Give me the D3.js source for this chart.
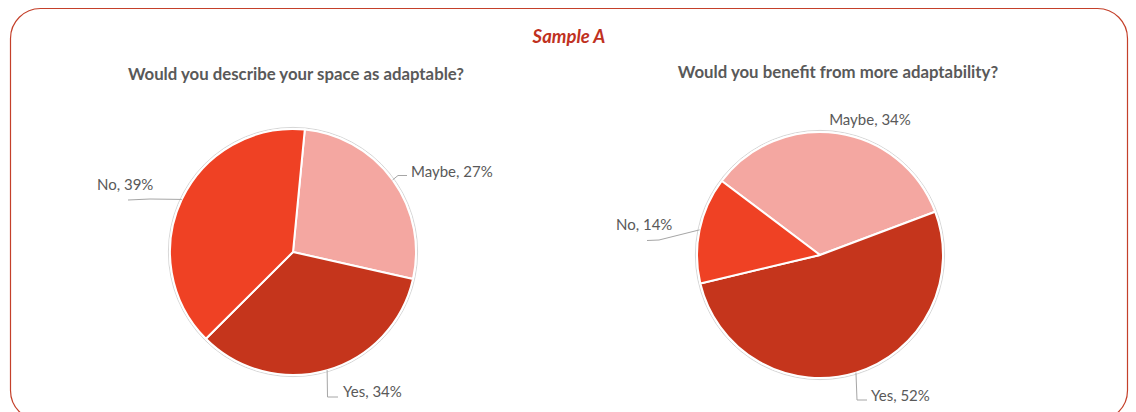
<!DOCTYPE html>
<html>
<head>
<meta charset="utf-8">
<script src="https://cdn.jsdelivr.net/npm/d3@7"></script>
<style>
  html, body { margin: 0; padding: 0; background: #ffffff; }
  svg { display: block; }
</style>
</head>
<body>
<svg id="chart" width="1136" height="412"></svg>
<script>
// Survey answers, Sample A
const panelTitle = "Sample A";

const leftQuestion = "Would you describe your space as adaptable?";
const leftCategories = ["Maybe", "Yes", "No"];
const leftValues = [27, 34, 39];

const rightQuestion = "Would you benefit from more adaptability?";
const rightCategories = ["Maybe", "Yes", "No"];
const rightValues = [34, 52, 14];

const colorByAnswer = { "No": "#ef4124", "Maybe": "#f4a7a1", "Yes": "#c5351c" };

const svg = d3.select("#chart");

// rounded frame around both charts
svg.append("rect")
  .attr("x", 10.5).attr("y", 8.5)
  .attr("width", 1117).attr("height", 412)
  .attr("rx", 30).attr("ry", 30)
  .attr("fill", "none")
  .attr("stroke", "#c4402a")
  .attr("stroke-width", 1.2);

svg.append("text")
  .attr("x", 569).attr("y", 43)
  .attr("text-anchor", "middle")
  .attr("font-family", "Lato, 'Open Sans', sans-serif")
  .attr("font-weight", "bold")
  .attr("font-style", "italic")
  .attr("font-size", 18.5)
  .attr("fill", "#c0311f")
  .text(panelTitle);

const deg = Math.PI / 180;

function drawPie(cfg) {
  const g = svg.append("g");
  const data = cfg.categories.map((c, i) => ({ cat: c, value: cfg.values[i] }));

  g.append("text")
    .attr("x", cfg.titleX).attr("y", cfg.titleY)
    .attr("text-anchor", "middle")
    .attr("font-family", "Lato, 'Open Sans', sans-serif")
    .attr("font-weight", "bold")
    .attr("font-size", 16.8)
    .attr("fill", "#595959")
    .text(cfg.question);

  const pie = d3.pie()
    .sort(null)
    .value(d => d.value)
    .startAngle(cfg.start * deg)
    .endAngle(cfg.start * deg + 2 * Math.PI);

  const arcs = pie(data);
  const arc = d3.arc().innerRadius(0).outerRadius(cfg.r);

  const pg = g.append("g").attr("transform", `translate(${cfg.cx},${cfg.cy})`);

  // faint outline just outside the pie
  pg.append("circle")
    .attr("r", cfg.r + 1.6)
    .attr("fill", "none")
    .attr("stroke", "#d6d6d6")
    .attr("stroke-width", 1);

  pg.selectAll("path.slice")
    .data(arcs)
    .enter().append("path")
    .attr("class", "slice")
    .attr("d", arc)
    .attr("fill", d => colorByAnswer[d.data.cat])
    .attr("stroke", "#ffffff")
    .attr("stroke-width", 2)
    .attr("stroke-linejoin", "round");

  // data labels with leader lines
  arcs.forEach(a => {
    const lab = cfg.labels[a.data.cat];
    const mid = (a.startAngle + a.endAngle) / 2;
    const ax = cfg.cx + cfg.r * Math.sin(mid);
    const ay = cfg.cy - cfg.r * Math.cos(mid);
    if (lab.leader) {
      const pts = [[ax, ay]].concat(lab.leader);
      g.append("path")
        .attr("d", d3.line()(pts))
        .attr("fill", "none")
        .attr("stroke", "#a6a6a6")
        .attr("stroke-width", 1);
    }
    g.append("text")
      .attr("x", lab.x).attr("y", lab.y)
      .attr("text-anchor", lab.anchor || "start")
      .attr("font-family", "Lato, 'Open Sans', sans-serif")
      .attr("font-size", 15)
      .attr("fill", "#595959")
      .text(`${a.data.cat}, ${a.data.value}%`);
  });
}

drawPie({
  question: leftQuestion,
  categories: leftCategories,
  values: leftValues,
  titleX: 296, titleY: 80,
  cx: 293, cy: 252, r: 123, start: 5.5,
  labels: {
    "No":    { x: 97,  y: 190, leader: [[150, 199], [128, 200]] },
    "Maybe": { x: 411, y: 177, leader: [[398, 175.5], [407, 175.5]] },
    "Yes":   { x: 343, y: 397, leader: [[327.5, 397], [338, 397]] }
  }
});

drawPie({
  question: rightQuestion,
  categories: rightCategories,
  values: rightValues,
  titleX: 838, titleY: 78,
  cx: 820, cy: 255, r: 123, start: -53,
  labels: {
    "Maybe": { x: 870, y: 125, anchor: "middle" },
    "No":    { x: 616, y: 230, leader: [[659, 240], [647, 240.5]] },
    "Yes":   { x: 871, y: 401, leader: [[857, 400], [867, 400]] }
  }
});
</script>
</body>
</html>
